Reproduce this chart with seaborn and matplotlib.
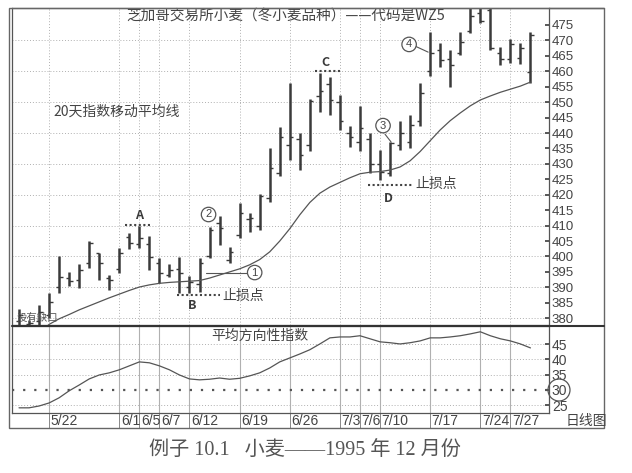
import numpy as np
import seaborn as sns
import matplotlib.pyplot as plt
from matplotlib.patches import Rectangle, Ellipse
from matplotlib.lines import Line2D

# trading days shown on the chart (5/17 .. 7/31)
days = ['5/17', '5/18', '5/19', '5/22', '5/23', '5/24', '5/25', '5/26', '5/30', '5/31',
        '6/1', '6/2', '6/5', '6/6', '6/7', '6/8', '6/9', '6/12', '6/13', '6/14',
        '6/15', '6/16', '6/19', '6/20', '6/21', '6/22', '6/23', '6/26', '6/27', '6/28',
        '6/29', '6/30', '7/3', '7/5', '7/6', '7/7', '7/10', '7/11', '7/12', '7/13',
        '7/14', '7/17', '7/18', '7/19', '7/20', '7/21', '7/24', '7/25', '7/26', '7/27',
        '7/28', '7/31']
date_labels = ['5/22', '6/1', '6/5', '6/7', '6/12', '6/19', '6/26',
               '7/3', '7/6', '7/10', '7/17', '7/24', '7/27']

high = [383.0, 379.5, 384.3, 388.2, 400.2, 395.0, 397.6, 405.0, 401.1, 394.0,
        402.8, 407.6, 409.9, 406.6, 399.5, 397.6, 399.8, 393.7, 399.5, 409.6,
        413.1, 403.1, 417.3, 414.1, 420.3, 435.2, 442.0, 456.2, 440.0, 451.0,
        459.5, 458.2, 452.3, 442.3, 448.8, 440.0, 434.5, 437.1, 443.9, 445.8,
        456.2, 472.7, 469.2, 466.9, 472.7, 482.0, 482.0, 482.0, 467.9, 470.5,
        469.2, 472.7]
low = [377.0, 377.0, 377.0, 380.1, 388.2, 390.5, 389.8, 396.3, 392.4, 389.2,
       394.7, 402.4, 402.8, 395.6, 391.4, 393.4, 388.2, 388.2, 388.5, 399.5,
       403.7, 397.9, 406.0, 407.9, 408.6, 417.7, 426.1, 431.3, 428.0, 434.2,
       446.8, 445.8, 441.0, 435.5, 434.2, 427.1, 424.8, 426.0, 434.5, 435.2,
       442.3, 458.5, 461.4, 454.9, 465.3, 472.4, 475.6, 466.9, 462.0, 462.7,
       462.4, 456.2]
opens = [379.0, 378.0, 379.0, 381.0, 390.0, 393.0, 392.4, 398.0, 401.0, 393.0,
         396.0, 406.3, 404.0, 404.0, 398.0, 394.0, 396.0, 390.0, 391.0, 400.0,
         411.0, 399.0, 407.0, 412.0, 410.0, 419.0, 427.0, 436.0, 438.0, 436.0,
         452.0, 456.0, 450.0, 440.0, 437.0, 438.0, 430.0, 427.0, 436.0, 437.0,
         444.0, 460.0, 467.0, 464.0, 466.0, 473.0, 479.0, 480.0, 466.0, 464.0,
         464.3, 459.8]
closes = [381.0, 378.5, 382.0, 385.3, 393.4, 392.1, 395.6, 404.4, 397.9, 392.4,
          401.1, 404.4, 406.0, 399.8, 394.7, 395.6, 394.7, 391.7, 397.9, 408.6,
          409.2, 401.5, 414.1, 412.5, 419.6, 428.7, 438.7, 438.7, 433.0, 450.4,
          453.6, 450.7, 444.0, 438.7, 441.6, 430.0, 427.4, 436.8, 440.0, 442.6,
          453.0, 465.9, 463.7, 462.0, 469.5, 478.0, 476.3, 467.5, 464.0, 468.8,
          467.5, 471.8]

# 20-day EMA (starts at 5/19)
ema = [375.0, 378.0, 379.8, 381.2, 382.7, 384.0, 385.3, 386.6, 387.8, 389.0,
       390.1, 390.8, 391.3, 391.6, 391.8, 392.0, 392.2, 393.0, 394.0, 395.0,
       396.0, 397.3, 399.0, 401.5, 405.0, 409.0, 413.5, 417.5, 420.5, 422.5,
       424.0, 425.5, 426.8, 427.3, 427.5, 428.0, 429.0, 431.0, 434.0, 437.5,
       441.0, 444.0, 446.5, 448.8, 450.7, 452.0, 453.2, 454.2, 455.2, 456.5]

adx = [24.1, 24.1, 24.7, 25.7, 27.4, 29.7, 31.6, 33.6, 34.9, 35.6,
       36.6, 37.9, 39.2, 38.9, 37.9, 36.6, 34.9, 33.6, 33.3, 33.5,
       33.9, 33.5, 33.8, 34.6, 35.6, 37.2, 39.2, 40.5, 41.8, 43.2,
       45.1, 47.1, 47.4, 47.4, 47.8, 46.8, 45.8, 45.5, 45.1, 45.5,
       46.1, 47.1, 47.1, 47.4, 47.8, 48.4, 49.1, 47.8, 46.8, 46.1,
       45.1, 43.8]

price_ticks = list(range(380, 480, 5))
adx_ticks = [25, 30, 35, 40, 45]

sns.set_theme(style="white")
plt.rcParams['font.family'] = ['Noto Sans CJK SC', 'DejaVu Sans']
narrow = ['Liberation Sans Narrow', 'Liberation Sans', 'DejaVu Sans']
ink = '#3a3a3a'
grid = '#b0b0b0'

W, H = 632, 473
fig = plt.figure(figsize=(6.32, 4.73), dpi=100)
fig.patch.set_facecolor('white')
ax = fig.add_axes([12 / W, 1 - 325 / H, 537 / W, 317 / H])
ax2 = fig.add_axes([12 / W, 1 - 413 / H, 537 / W, 87 / H])

idx = np.arange(len(days))
date_pos = [days.index(d) for d in date_labels]

# ---- main price panel
for v in range(380, 480, 10):
    ax.axhline(v, color=grid, lw=0.7, ls=(0, (1, 2)), zorder=0)
for p in date_pos:
    ax.axvline(p, color=grid, lw=0.7, ls=(0, (1, 2)), zorder=0)

ax.vlines(idx, low, high, colors=ink, lw=1.8)
ax.hlines(opens, idx - 0.35, idx, colors=ink, lw=1.0)
ax.hlines(closes, idx, idx + 0.35, colors=ink, lw=1.0)
sns.lineplot(x=idx[2:], y=ema, ax=ax, color='#555555', lw=0.9)

ax.set_xlim(-0.7, 52.85)
ax.set_ylim(377.8, 480.5)
ax.set_xticks(date_pos)
ax.set_xticklabels([])
ax.tick_params(axis='x', length=0)
ax.yaxis.tick_right()
ax.set_yticks(price_ticks)
ax.set_yticklabels([str(v) for v in price_ticks], family=narrow, fontsize=9.5, color='#444444')
ax.tick_params(axis='y', direction='in', length=3, pad=2, colors='#444444', right=True)
ax.set_xlabel('')
ax.set_ylabel('')
for s in ax.spines.values():
    s.set_color('#555555')
    s.set_linewidth(0.9)

ax.text(26.6, 478.2, '芝加哥交易所小麦（冬小麦品种）——代码是WZ5', ha='center', va='center',
        fontsize=10.5, color='#444444')
ax.text(3.4, 446.8, '20天指数移动平均线', ha='left', va='center', fontsize=10, color='#444444')
ax.text(-0.2, 380.2, '没有缺口', ha='left', va='center', fontsize=7.5, color='#555555')

dot = dict(color='#444444', lw=1.5, ls=(0, (1, 1.2)))
ax.text(12.0, 413.3, 'A', ha='center', va='center', fontsize=9, color=ink, fontweight='bold')
ax.plot([10.6, 13.3], [410.2, 410.2], **dot)
ax.text(17.3, 384.2, 'B', ha='center', va='center', fontsize=9, color=ink, fontweight='bold')
ax.plot([15.8, 20.0], [387.5, 387.5], **dot)
ax.text(20.3, 387.3, '止损点', ha='left', va='center', fontsize=10, color='#444444')
ax.text(30.6, 462.8, 'C', ha='center', va='center', fontsize=9, color=ink, fontweight='bold')
ax.plot([29.5, 32.2], [460.1, 460.1], **dot)
ax.text(36.8, 418.9, 'D', ha='center', va='center', fontsize=9, color=ink, fontweight='bold')
ax.plot([34.8, 39.2], [423.2, 423.2], **dot)
ax.text(39.5, 423.6, '止损点', ha='left', va='center', fontsize=10, color='#444444')

circ = dict(boxstyle='circle,pad=0.2', fc='white', ec='#555555', lw=0.9)
ax.plot([18.6, 22.8], [394.6, 394.6], color='#555555', lw=0.8)
ax.text(23.5, 394.8, '1', ha='center', va='center', fontsize=8, color='#444444',
        family=narrow, bbox=circ)
ax.text(18.9, 413.6, '2', ha='center', va='center', fontsize=8, color='#444444',
        family=narrow, bbox=circ)
ax.plot([36.5, 37.1], [439.6, 437.1], color='#555555', lw=0.8)
ax.text(36.3, 442.4, '3', ha='center', va='center', fontsize=8, color='#444444',
        family=narrow, bbox=circ)
ax.plot([39.6, 40.8], [468.0, 466.2], color='#555555', lw=0.8)
ax.text(38.9, 468.7, '4', ha='center', va='center', fontsize=8, color='#444444',
        family=narrow, bbox=circ)

# ---- ADX panel
for v in [25, 35, 40, 45]:
    ax2.axhline(v, color=grid, lw=0.7, ls=(0, (1, 2)), zorder=0)
for p in date_pos:
    ax2.axvline(p, color=grid, lw=0.8, zorder=0)
ax2.axhline(30, color='#555555', lw=1.6, ls=(0, (1, 4)))
sns.lineplot(x=idx, y=adx, ax=ax2, color='#555555', lw=0.9)
ax2.set_xlim(-0.7, 52.85)
ax2.set_ylim(22.4, 51.0)
ax2.set_xticks(date_pos)
ax2.set_xticklabels([])
ax2.tick_params(axis='x', length=0)
ax2.yaxis.tick_right()
ax2.set_yticks(adx_ticks)
ax2.set_yticklabels([str(v) for v in adx_ticks], family=narrow, fontsize=10, color='#444444')
ax2.tick_params(axis='y', direction='in', length=3, pad=2, colors='#444444', right=True)
ax2.set_xlabel('')
ax2.set_ylabel('')
for s in ax2.spines.values():
    s.set_color('#555555')
    s.set_linewidth(0.9)
ax2.text(24.0, 47.6, '平均方向性指数', ha='center', va='center', fontsize=10, color='#444444')

# circled 30 on the ADX scale
fig.add_artist(Ellipse((559 / W, 1 - 390 / H), 22 / W, 22 / H, transform=fig.transFigure,
                       fill=False, ec='#555555', lw=0.9))

# date strip below the panels
xt = ax2.get_xaxis_transform()
for lab, p in zip(date_labels, date_pos):
    ax2.text(p + 0.15, -0.095, lab, transform=xt, ha='left', va='center',
             fontsize=10, family=narrow, color='#444444', clip_on=False)
    ax2.plot([p, p], [0, -0.17], transform=xt, color='#888888', lw=0.7, clip_on=False)
fig.text(586 / W, 1 - 421 / H, '日线图', ha='center', va='center', fontsize=10, color='#444444')

# outer frame and separator
fig.add_artist(Rectangle((9 / W, 1 - 428 / H), 595 / W, 420 / H, transform=fig.transFigure,
                         fill=False, ec='#666666', lw=1.0))
fig.add_artist(Line2D([12 / W, 604 / W], [1 - 326 / H, 1 - 326 / H], transform=fig.transFigure,
                      color='#333333', lw=1.5))
fig.add_artist(Line2D([549 / W, 604 / W], [1 - 8 / H, 1 - 8 / H], transform=fig.transFigure,
                      color='#666666', lw=1.0))

fig.text(305 / W, 1 - 450 / H, '例子 10.1   小麦——1995 年 12 月份', ha='center', va='center',
         fontsize=14.5, color='#555555', family=['Liberation Serif', 'Noto Sans CJK SC'])

fig.savefig('out.png', dpi=100, facecolor='white')
